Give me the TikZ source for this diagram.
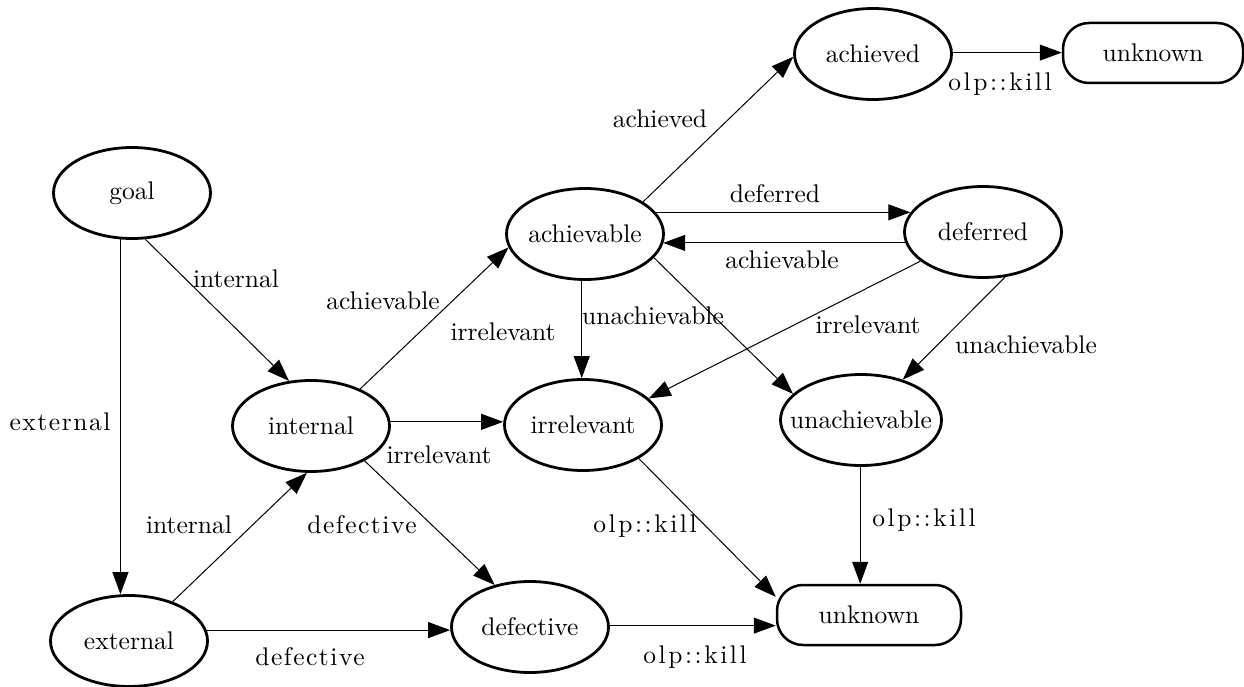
\documentclass[tikz,border=0pt]{standalone}
\usepackage{fontspec}
\setmainfont{lmroman10-regular}[Extension=.otf]
\usetikzlibrary{arrows.meta,shapes.geometric,calc}
\newcommand\zt[1]{\makebox[0pt]{#1}}
\newcommand\fsz{\fontsize{25.5}{30}\selectfont}
\begin{document}
\begin{tikzpicture}[x=1pt,y=-1pt,
  st/.style={ellipse,draw,line width=2.8pt,minimum width=157pt,minimum height=91pt,inner sep=0pt,font=\fsz},
  term/.style={rectangle,rounded corners=26pt,draw,line width=2.5pt,minimum width=180pt,minimum height=60pt,inner sep=0pt,font=\fsz},
  lbl/.style={anchor=base,inner sep=0pt,font=\fsz},
  wlbl/.style={anchor=base,inner sep=0pt,font=\fsz\addfontfeatures{LetterSpace=6}},
  klbl/.style={anchor=base,inner sep=0pt,font=\fsz\addfontfeatures{LetterSpace=10}},
  arr/.style={-{Triangle[length=22pt,width=16pt]},line width=1pt}]
\useasboundingbox (0,0) rectangle (1244,687);
% states
\node[st] (goal) at (132,193) {\zt{goal}};
\node[st] (external) at (129,641) {\zt{external}};
\node[st] (internal) at (311,426) {\zt{internal}};
\node[st] (achievable) at (585,234) {\zt{achievable}};
\node[st] (achieved) at (873,54) {\zt{achieved}};
\node[term] (unknownt) at (1153,53) {\zt{unknown}};
\node[st] (deferred) at (983,232) {\zt{deferred}};
\node[st] (irrelevant) at (583,425) {\zt{irrelevant}};
\node[st,minimum width=161pt] (unachievable) at (861,420) {\zt{unachievable}};
\node[st] (defective) at (530,627) {\zt{defective}};
\node[term,minimum width=184pt] (unknownb) at (869,615) {\zt{unknown}};
% transitions
\draw[arr] (goal.-104) -- (goal.-104 |- external.north);
\draw[arr] (goal.-74) -- (internal.116);
\draw[arr] (external.42) -- (internal.-95);
\draw[arr] (external.8) -- (external.8 -| defective.west);
\draw[arr] (internal.37) -- (achievable.190);
\draw[arr] (internal.3) -- (internal.3 -| irrelevant.west);
\draw[arr] (internal.-33) -- (defective.130);
\draw[arr] (achievable.29) -- (achieved.182);
\draw[arr] (achievable.17) -- (achievable.17 -| deferred.165);
\draw[arr] (deferred.188) -- (deferred.188 -| achievable.-7);
\draw[arr] (achievable.-94) -- (achievable.-94 |- irrelevant.north);
\draw[arr] (achievable.-19) -- (unachievable.159);
\draw[arr] (deferred.205) -- (irrelevant.22);
\draw[arr] (deferred.-64) -- (unachievable.44);
\draw[arr] (irrelevant.-31) -- (unknownb.169);
\draw[arr] (unachievable.-91) -- (unachievable.-91 |- unknownb.north);
\draw[arr] (defective.1) -- (defective.1 -| unknownb.west);
\draw[arr] (achieved.1) -- (achieved.1 -| unknownt.west);
% labels
\node[lbl] (l1) at (236,287) {internal};
\node[wlbl] (l2) at (60,430) {external};
\node[lbl] (l3) at (189,533) {internal};
\node[wlbl] (l4) at (310,665) {defective};
\node[lbl] (l5) at (383,309) {achievable};
\node[lbl] (l6) at (439,463) {irrelevant};
\node[wlbl] (l7) at (362,533) {defective};
\node[lbl] (l8) at (660,128) {achieved};
\node[lbl] (l9) at (775,203) {deferred};
\node[lbl] (l10) at (782,268) {achievable};
\node[lbl] (l11) at (503,340) {irrelevant};
\node[lbl] (l12) at (653,324) {unachievable};
\node[lbl] (l13) at (868,333) {irrelevant};
\node[lbl] (l14) at (1026,353) {unachievable};
\node[klbl] (l15) at (645,532) {olp::kill};
\node[klbl] (l16) at (924,526) {olp::kill};
\node[klbl] (l17) at (695,663) {olp::kill};
\node[klbl] (l18) at (1000,91) {olp::kill};
\end{tikzpicture}
\end{document}
